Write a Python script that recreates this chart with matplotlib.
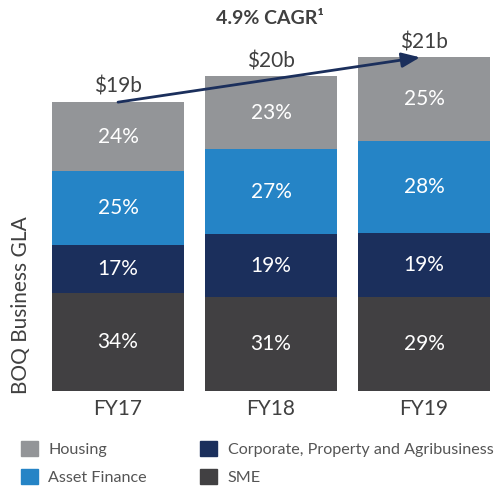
import numpy as np
import matplotlib.pyplot as plt
from matplotlib.patches import Patch

plt.rcParams['font.family'] = ['Lato', 'DejaVu Sans']

# datos del grafico ($b)
years = ['FY17', 'FY18', 'FY19']
totals_lbl = ['$19b', '$20b', '$21b']
sme = [6.45, 6.2, 6.2]
corp = [3.15, 4.1, 4.2]
asset = [4.85, 5.6, 6.05]
housing = [4.55, 4.8, 5.5]
sme_pct = ['34%', '31%', '29%']
corp_pct = ['17%', '19%', '19%']
asset_pct = ['25%', '27%', '28%']
housing_pct = ['24%', '23%', '25%']

c_housing = '#939598'
c_asset = '#2584c6'
c_corp = '#1b2f5c'
c_sme = '#414042'
c_text = '#404040'

fig = plt.figure(figsize=(4.96, 4.87), dpi=100)
ax = fig.add_axes([52/496, 96/487, 438/496, 391/487])

x = np.arange(len(years))
w = 0.863
segs = [(sme, sme_pct, c_sme, 'SME'),
        (corp, corp_pct, c_corp, 'Corporate, Property and Agribusiness'),
        (asset, asset_pct, c_asset, 'Asset Finance'),
        (housing, housing_pct, c_housing, 'Housing')]
bottom = np.zeros(len(years))
for vals, pcts, col, name in segs:
    vals = np.array(vals)
    ax.bar(x, vals, w, bottom=bottom, color=col, linewidth=0)
    for i in range(len(x)):
        ax.text(x[i], bottom[i] + vals[i]/2, pcts[i], ha='center', va='center',
                color='white', fontsize=15)
    bottom = bottom + vals

# etiquetas de totales
for i in range(len(x)):
    ax.text(x[i], bottom[i] + 1.0, totals_lbl[i], ha='center', va='center',
            color=c_text, fontsize=15)

# flecha CAGR
ax.annotate('', xy=(1.974, bottom[2]), xytext=(0, bottom[0]),
            arrowprops=dict(arrowstyle='-|>,head_length=1.1,head_width=0.45',
                            color=c_corp, lw=2, shrinkA=0, shrinkB=0))
fig.text(270/496, 1 - 18/487, '4.9% CAGR\u00b9', ha='center', va='center',
         color=c_text, fontsize=14, fontweight='bold')

ax.set_xlim(-0.4315, 2.4315)
ax.set_ylim(0, 25.72)
ax.set_xticks(x)
ax.set_xticklabels(years, fontsize=15, color=c_text)
ax.tick_params(axis='x', length=0, pad=6)
ax.set_yticks([])
for s in ax.spines.values():
    s.set_visible(False)
fig.text(21/496, 1 - 305/487, 'BOQ Business GLA', rotation=90, ha='center',
         va='center', color=c_text, fontsize=15)

handles = [Patch(color=c_housing, label='Housing'),
           Patch(color=c_asset, label='Asset Finance'),
           Patch(color=c_corp, label='Corporate, Property and Agribusiness'),
           Patch(color=c_sme, label='SME')]
fig.legend(handles=handles, ncol=2, loc='upper left',
           bbox_to_anchor=(21/496, 1 - 441/487), frameon=False, fontsize=11.6,
           handlelength=1.05, handleheight=1.05, handletextpad=0.65,
           columnspacing=3.3, labelspacing=0.72, borderpad=0, borderaxespad=0,
           labelcolor='#555555')

plt.savefig('out.png', dpi=100)
